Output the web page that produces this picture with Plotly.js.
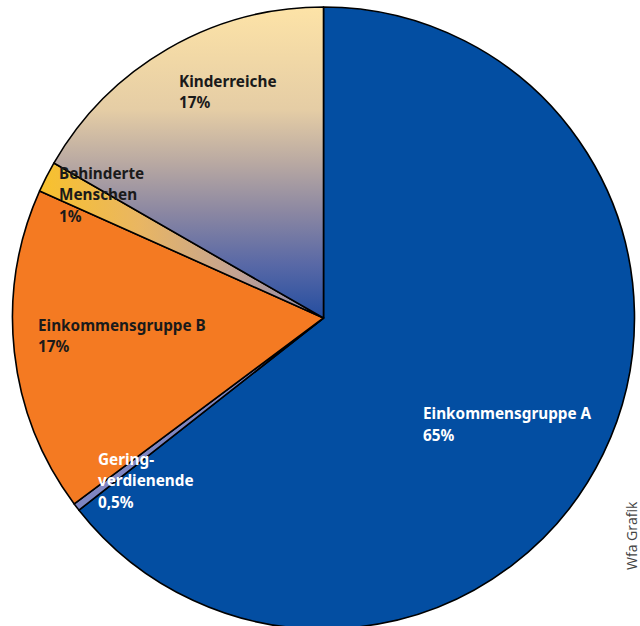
<!DOCTYPE html>
<html>
<head>
<meta charset="utf-8">
<script src="https://cdn.plot.ly/plotly-3.0.1.min.js"></script>
<style>
html,body{margin:0;padding:0;overflow:hidden;background:#fff;}
#chart{width:640px;height:632px;}
</style>
</head>
<body>
<div id="chart"></div>
<script>
// Data (order clockwise from 12 o'clock)
const categories = ["Einkommensgruppe A", "Geringverdienende", "Einkommensgruppe B", "Behinderte Menschen", "Kinderreiche"];
const shares = [64.4, 0.4, 16.9, 1.6, 16.7];
const shareLabels = ["65%", "0,5%", "17%", "1%", "17%"];
const labelLines = [
  ["Einkommensgruppe A", "65%"],
  ["Gering-", "verdienende", "0,5%"],
  ["Einkommensgruppe B", "17%"],
  ["Behinderte", "Menschen", "1%"],
  ["Kinderreiche", "17%"]
];
const sliceColors = ["#034ea2", "#7f86c2", "#f47a22", "#f8c12d", "#e9d2a6"];
const labelColors = ["#ffffff", "#ffffff", "#1a1a1a", "#1a1a1a", "#1a1a1a"];
// label anchor (left x, first line centre y) in page pixels
const labelPos = [[421, 413], [96, 459], [36, 325], [57, 173], [177, 81]];
const source = "Wfa Grafik";

const W = 640, H = 632;
const px = x => x / W;
const py = y => (H - y) / H;

const cx = 323.5, cy = 318, R = 311;

const annotations = [];
labelLines.forEach((lines, i) => {
  lines.forEach((t, j) => {
    annotations.push({
      text: t, xref: 'paper', yref: 'paper',
      x: px(labelPos[i][0]), y: py(labelPos[i][1] + j * 21.5),
      xanchor: 'left', yanchor: 'middle', align: 'left', showarrow: false,
      font: {family: 'Noto Sans', size: 15.3, color: labelColors[i], weight: 'bold'}
    });
  });
});
annotations.push({
  text: source, xref: 'paper', yref: 'paper', x: px(631), y: py(536),
  xanchor: 'center', yanchor: 'middle', textangle: -90, showarrow: false,
  font: {family: 'Open Sans', size: 14, color: '#444'}
});

const trace = {
  type: 'pie',
  labels: categories,
  values: shares,
  text: shareLabels,
  sort: false,
  direction: 'clockwise',
  rotation: 0,
  textinfo: 'none',
  hoverinfo: 'label+text',
  marker: {colors: sliceColors, line: {color: '#000', width: 1.6}},
  domain: {x: [px(cx - R), px(cx + R)], y: [py(cy + R), py(cy - R)]},
  showlegend: false
};

const layout = {
  width: W, height: H,
  margin: {l: 0, r: 0, t: 0, b: 0},
  paper_bgcolor: '#fff',
  showlegend: false,
  annotations: annotations
};

Plotly.newPlot('chart', [trace], layout, {staticPlot: true, displayModeBar: false}).then(() => {
  const svg = document.querySelector('#chart .main-svg');
  const NS = 'http://www.w3.org/2000/svg';
  const defs = document.createElementNS(NS, 'defs');
  function grad(id, x2, y2, stops) {
    const g = document.createElementNS(NS, 'linearGradient');
    g.setAttribute('id', id);
    g.setAttribute('x1', '0'); g.setAttribute('y1', '0');
    g.setAttribute('x2', x2); g.setAttribute('y2', y2);
    stops.forEach(s => {
      const st = document.createElementNS(NS, 'stop');
      st.setAttribute('offset', s[0]);
      st.setAttribute('stop-color', s[1]);
      g.appendChild(st);
    });
    defs.appendChild(g);
  }
  grad('gradKinder', '0', '1', [
    [0, '#fde3a7'], [0.33, '#e5cda5'], [0.5, '#b9a9a2'],
    [0.66, '#8b87a2'], [0.83, '#5868a6'], [1, '#244ea0']
  ]);
  grad('gradBehind', '1', '0', [
    [0, '#f8c12c'], [0.35, '#e9b662'], [0.7, '#c2a294'], [1, '#8a88a8']
  ]);
  svg.insertBefore(defs, svg.firstChild);
  const paths = document.querySelectorAll('#chart .slice path.surface');
  if (paths[4]) paths[4].style.fill = 'url(#gradKinder)';
  if (paths[3]) paths[3].style.fill = 'url(#gradBehind)';
});
</script>
</body>
</html>
